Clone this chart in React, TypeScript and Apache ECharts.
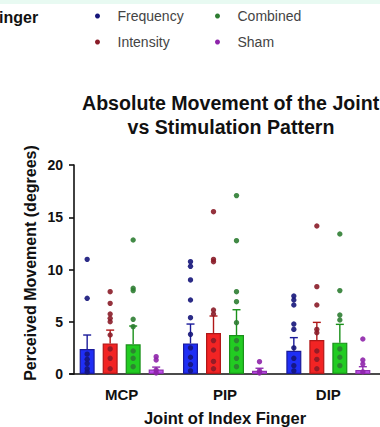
import React, { useEffect, useRef } from "react";
import * as echarts from "echarts";

const categories = ["MCP", "PIP", "DIP"];
const seriesNames = ["Frequency", "Intensity", "Combined", "Sham"];

// bar means
const freqMean = [2.39, 2.93, 2.23];
const intMean = [2.93, 3.92, 3.25];
const combMean = [2.84, 3.73, 3.0];
const shamMean = [0.42, 0.3, 0.38];

// upper error (mean + SEM)
const freqUpper = [3.73, 4.78, 3.48];
const intUpper = [4.2, 5.55, 4.94];
const combUpper = [4.59, 6.15, 4.75];
const shamUpper = [0.66, 0.55, 0.7];

// individual points per joint
const freqDots = [
  [10.97, 7.24, 1.9, 1.4, 1.0, 0.5, 0.2],
  [10.75, 10.3, 9.0, 7.08, 5.39, 3.8, 2.5, 1.6, 0.9, 0.3],
  [7.46, 7.08, 6.6, 4.78, 4.27, 2.5, 1.5, 0.8, 0.3],
];
const intDots = [
  [7.88, 6.76, 5.74, 5.33, 5.0, 3.73, 2.4, 1.5, 0.5],
  [15.53, 10.97, 10.75, 6.12, 5.74, 3.2, 2.3, 1.2, 0.5],
  [14.16, 8.36, 6.6, 4.27, 3.95, 2.2, 1.4, 0.5],
];
const combDots = [
  [12.82, 8.2, 7.98, 5.23, 4.53, 2.2, 1.5, 0.7],
  [17.07, 12.76, 7.88, 6.92, 4.91, 3.2, 2.4, 1.5, 0.7],
  [13.4, 7.98, 5.64, 5.17, 2.4, 1.6, 0.8],
];
const shamDots = [
  [1.66, 1.34, 0.38, 0.1],
  [1.18, 0.3, 0.1],
  [3.35, 1.34, 0.96, 0.2],
];

const yTicks = [0, 5, 10, 15, 20];

const FONT = '"Liberation Sans", Arial, Helvetica, sans-serif';
const BAR_W = 15;
const BAR_GAP = 8;
const barFill = ["#1f2ef5", "#f22424", "#22cc22", "#c050f0"];
const barBorder = ["#1a1a9a", "#b01818", "#1a901a", "#9030b0"];
const dotColor = ["#15157a", "#8a1c28", "#2e7d32", "#8e24aa"];

export default function App() {
  const ref = useRef<HTMLDivElement>(null);
  useEffect(() => {
    if (!ref.current) return;
    const chart = echarts.init(ref.current, undefined, { renderer: "svg" });
    const means = [freqMean, intMean, combMean, shamMean];
    const uppers = [freqUpper, intUpper, combUpper, shamUpper];
    const dots = [freqDots, intDots, combDots, shamDots];

    const offsetOf = (i: number) => (i - 1.5) * (BAR_W + BAR_GAP);

    const barSeries = seriesNames.map((n, i) => ({
      name: n + " mean",
      type: "bar",
      data: means[i],
      barWidth: BAR_W,
      barGap: `${(BAR_GAP / BAR_W) * 100}%`,
      itemStyle: { color: barFill[i], borderColor: barBorder[i], borderWidth: 1.2 },
      z: 2,
    }));

    const errSeries = seriesNames.map((n, i) => ({
      name: n + " error",
      type: "custom",
      z: 3,
      encode: { x: 0, y: [1, 2] },
      data: means[i].map((m, c) => [c, m, uppers[i][c]]),
      renderItem: (params: any, api: any) => {
        const c = api.value(0);
        const lo = api.coord([c, api.value(1)]);
        const hi = api.coord([c, api.value(2)]);
        const x = lo[0] + offsetOf(i);
        const st = { stroke: barBorder[i], lineWidth: 1.4 };
        return {
          type: "group",
          children: [
            { type: "line", shape: { x1: x, y1: lo[1], x2: x, y2: hi[1] }, style: st },
            { type: "line", shape: { x1: x - 4, y1: hi[1], x2: x + 4, y2: hi[1] }, style: st },
          ],
        };
      },
    }));

    const dotSeries = seriesNames.map((n, i) => ({
      name: n,
      type: "custom",
      z: 4,
      itemStyle: { color: dotColor[i] },
      encode: { x: 0, y: 1 },
      data: dots[i].flatMap((arr, c) => arr.map((v) => [c, v])),
      renderItem: (params: any, api: any) => {
        const p = api.coord([api.value(0), api.value(1)]);
        return {
          type: "circle",
          shape: { cx: p[0] + offsetOf(i), cy: p[1], r: 2.7 },
          style: { fill: dotColor[i], opacity: 0.9 },
        };
      },
    }));

    const legendCommon = {
      orient: "vertical",
      top: 9,
      itemWidth: 30,
      itemHeight: 5,
      itemGap: 12,
      icon: "circle",
      padding: 0,
      selectedMode: false,
      textStyle: { fontSize: 14, lineHeight: 14, color: "#444", fontFamily: FONT },
    };

    chart.setOption({
      animation: false,
      backgroundColor: "#ffffff",
      title: [
        {
          text: "Absolute Movement of the Joint",
          left: 82,
          top: 92,
          padding: 0,
          textStyle: { fontSize: 19.6, fontWeight: "bold", color: "#111", fontFamily: FONT, lineHeight: 22 },
        },
        {
          text: "vs Stimulation Pattern",
          left: 231,
          top: 116,
          padding: 0,
          textAlign: "center",
          textStyle: { fontSize: 19.6, fontWeight: "bold", color: "#111", fontFamily: FONT, lineHeight: 22 },
        },
      ],
      legend: [
        { ...legendCommon, left: 95, data: ["Frequency", "Intensity"] },
        { ...legendCommon, left: 215, data: ["Combined", "Sham"] },
      ],
      grid: { left: 70, right: -13, top: 165, bottom: 53, containLabel: false },
      xAxis: {
        type: "category",
        data: categories,
        name: "Joint of Index Finger",
        nameLocation: "middle",
        nameGap: 35,
        nameTextStyle: { fontSize: 16.5, fontWeight: "bold", color: "#111", fontFamily: FONT },
        axisLine: { lineStyle: { color: "#111", width: 1.6 } },
        axisTick: { alignWithLabel: true, length: 5, lineStyle: { color: "#111", width: 1.6 } },
        axisLabel: { fontSize: 15, fontWeight: "bold", color: "#111", fontFamily: FONT, margin: 13 },
        splitLine: { show: false },
      },
      yAxis: {
        type: "value",
        min: yTicks[0],
        max: yTicks[yTicks.length - 1],
        interval: 5,
        offset: -4,
        axisLine: { show: true, lineStyle: { color: "#111", width: 1.6 } },
        axisTick: { show: true, length: 5, lineStyle: { color: "#111", width: 1.6 } },
        axisLabel: { fontSize: 14, fontWeight: "bold", color: "#111", fontFamily: FONT, margin: 11 },
        splitLine: { show: false },
      },
      graphic: [
        { type: "rect", left: 0, top: 0, shape: { width: 380, height: 4 }, style: { fill: "#e8faf2" } },
        {
          type: "text",
          x: -1,
          y: 17,
          style: {
            text: "inger",
            fontSize: 16,
            fontWeight: "bold",
            fontFamily: FONT,
            fill: "#111",
            align: "left",
            verticalAlign: "middle",
          },
        },
        {
          type: "text",
          x: 30,
          y: 263,
          rotation: Math.PI / 2,
          style: {
            text: "Perceived Movement (degrees)",
            fontSize: 16,
            fontWeight: "bold",
            fontFamily: FONT,
            fill: "#111",
            align: "center",
            verticalAlign: "middle",
          },
        },
      ],
      series: [...barSeries, ...errSeries, ...dotSeries],
    });
    return () => chart.dispose();
  }, []);
  return (
    <div
      ref={ref}
      style={{ position: "fixed", left: 0, top: 0, width: 380, height: 427, background: "#fff" }}
    />
  );
}
